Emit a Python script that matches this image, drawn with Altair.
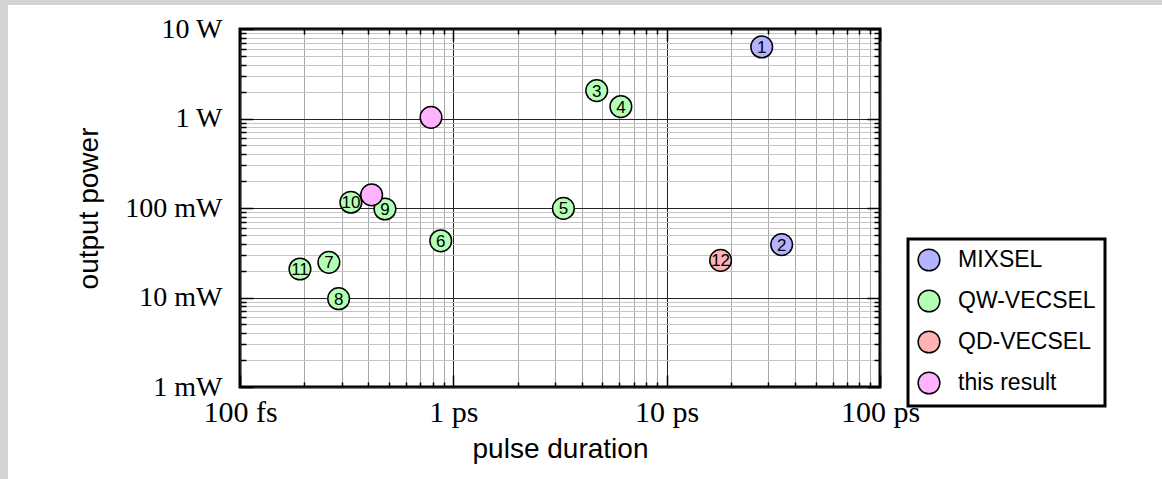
import json
import altair as alt
import pandas as pd

# ---- data ----
labels = ["1", "2", "3", "4", "5", "6", "7", "8", "9", "10", "11", "12", "", ""]
groups = (["MIXSEL", "MIXSEL"] + ["QW-VECSEL"] * 9 + ["QD-VECSEL"]
          + ["this result", "this result"])
durations_ps = [27.9, 34.6, 4.7, 6.1, 3.28, 0.873, 0.261, 0.290, 0.478,
                0.331, 0.191, 17.9, 0.786, 0.414]
powers_w = [6.3, 0.039, 2.05, 1.36, 0.099, 0.043, 0.0247, 0.0097, 0.0975,
            0.116, 0.0208, 0.026, 1.03, 0.140]

group_names = ["MIXSEL", "QW-VECSEL", "QD-VECSEL", "this result"]
group_colors = ["#b3b3ff", "#b3ffb3", "#ffb3b3", "#ffb3ff"]

x_major = [0.1, 1, 10, 100]
x_major_labels = ["100 fs", "1 ps", "10 ps", "100 ps"]
y_major = [0.001, 0.01, 0.1, 1, 10]
y_major_labels = ["1 mW", "10 mW", "100 mW", "1 W", "10 W"]


def minors(majors):
    out = []
    for d in majors[:-1]:
        for m in range(2, 10):
            out.append(round(m * d, 6))
    return out


x_all = sorted(x_major + minors(x_major))
y_all = sorted(y_major + minors(y_major))


def label_expr(vals, labs):
    expr = "''"
    for v, l in reversed(list(zip(vals, labs))):
        expr = f"datum.value == {v} ? '{l}' : ({expr})"
    return expr


def major_test(vals):
    return f"indexof({json.dumps(vals)}, datum.value) >= 0"


df = pd.DataFrame({"label": labels, "group": groups,
                   "duration": durations_ps, "power": powers_w})

W, H = 640, 358
xs = alt.Scale(type="log", domain=[0.1, 100], nice=False)
ys = alt.Scale(type="log", domain=[0.001, 10], nice=False)

serif = "Liberation Serif"
sans = "Liberation Sans"

x_main_axis = alt.Axis(
    orient="bottom", values=x_all, labelExpr=label_expr(x_major, x_major_labels),
    grid=True,
    gridColor={"condition": {"test": major_test(x_major), "value": "#222222"}, "value": "#a8a8a8"},
    gridWidth=1, ticks=False, tickSize=0, domain=False,
    labelFont=serif, labelFontSize=30, labelColor="black", labelPadding=10,
    labelOverlap=False, labelFlush=False, labelBaseline="top",
    title="pulse duration", titleFont=sans, titleFontSize=28, titleFontWeight="normal",
    titleColor="black", titleX=W / 2, titleY=70, titleBaseline="alphabetic",
)
y_main_axis = alt.Axis(
    orient="left", values=y_all, labelExpr=label_expr(y_major, y_major_labels),
    grid=True,
    gridColor={"condition": {"test": major_test(y_major), "value": "#222222"}, "value": "#c4c4c4"},
    gridWidth=1, ticks=False, tickSize=0, domain=False,
    labelFont=serif, labelFontSize=28, labelColor="black", labelPadding=18,
    labelOverlap=False, labelFlush=False, labelBaseline="middle",
    title="output power", titleFont=sans, titleFontSize=28, titleFontWeight="normal",
    titleColor="black", titleX=-143, titleY=H / 2, titleBaseline="alphabetic",
    titleAngle=270,
)


def tick_axis(orient, values, majors, offset, big, small):
    return alt.Axis(
        orient=orient, values=values, offset=offset, grid=False, labels=False,
        domain=False, title=None, ticks=True, tickColor="black", tickWidth=1.5,
        tickSize={"condition": {"test": major_test(majors), "value": big}, "value": small},
    )


legend = alt.Legend(
    orient="none", legendX=668, legendY=210, title=None, padding=9,
    fillColor="white", strokeColor="black",
    labelFont=sans, labelFontSize=23, labelColor="black", labelOffset=17,
    symbolType="circle", symbolSize=470, symbolStrokeColor="black",
    symbolStrokeWidth=1.5, symbolOpacity=1, symbolFillColor="white",
    rowPadding=13,
)

base = alt.Chart(df)

points = base.mark_circle(size=470, opacity=1, stroke="black", strokeWidth=1.5).encode(
    x=alt.X("duration:Q", scale=xs, axis=x_main_axis),
    y=alt.Y("power:Q", scale=ys, axis=y_main_axis),
    color=alt.Color("group:N", scale=alt.Scale(domain=group_names, range=group_colors),
                    legend=legend, sort=group_names),
)

ticks_a = base.mark_point(opacity=0).encode(
    x=alt.X("duration:Q", scale=xs, axis=tick_axis("top", x_all, x_major, -H, 12, 5)),
    y=alt.Y("power:Q", scale=ys, axis=tick_axis("right", y_all, y_major, -W, 13, 6)),
)
ticks_b = base.mark_point(opacity=0).encode(
    x=alt.X("duration:Q", scale=xs, axis=tick_axis("bottom", x_all, x_major, -H, 12, 5)),
    y=alt.Y("power:Q", scale=ys, axis=tick_axis("left", y_all, y_major, -W, 13, 6)),
)

texts = base.mark_text(font=sans, fontSize=17, color="black", align="center",
                       baseline="middle", dy=1).encode(
    x=alt.X("duration:Q", scale=xs, axis=None),
    y=alt.Y("power:Q", scale=ys, axis=None),
    text="label:N",
)

strip_df = pd.DataFrame({"a": [0]})
left_strip = alt.Chart(strip_df).mark_rect(color="#d4d4d4").encode(
    x=alt.value(-240), x2=alt.value(-232), y=alt.value(-29), y2=alt.value(450))
top_strip = alt.Chart(strip_df).mark_rect(color="#d4d4d4").encode(
    x=alt.value(-240), x2=alt.value(922), y=alt.value(-29), y2=alt.value(-24))

chart = alt.layer(left_strip, top_strip, ticks_a, ticks_b, points, texts).resolve_axis(
    x="independent", y="independent"
).properties(
    width=W, height=H,
    padding={"left": 240, "top": 29, "right": 282, "bottom": 92},
    autosize=alt.AutoSizeParams(type="none"),
    background="white",
).configure_view(stroke="black", strokeWidth=3).configure_legend(strokeWidth=3)

chart.save("out.html", embed_options={"renderer": "svg", "actions": False})
